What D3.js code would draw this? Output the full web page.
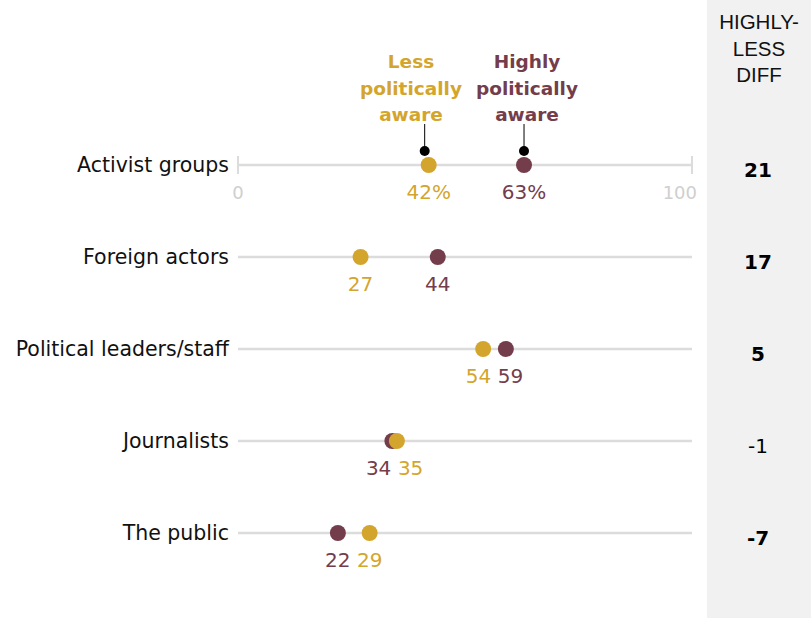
<!DOCTYPE html>
<html><head><meta charset="utf-8">
<script src="https://cdn.jsdelivr.net/npm/d3@7"></script>
<style>body{margin:0;background:#fff}svg{display:block}</style>
</head><body>
<svg id="c" width="811" height="618"></svg>
<script>
const categories = ["Activist groups","Foreign actors","Political leaders/staff","Journalists","The public"];
const lessAware = [42,27,54,35,29];
const highlyAware = [63,44,59,34,22];
const diffs = [21,17,5,-1,-7];
const diffBold = [true,true,true,false,true];
const axisTicks = [0,100];
const seriesNames = ["Less\npolitically\naware","Highly\npolitically\naware"];
const diffHeader = ["HIGHLY-","LESS","DIFF"];

const GOLD = "#D4A52C", MAROON = "#743D4B";
const svg = d3.select("#c");
const x = d3.scaleLinear().domain([0,100]).range([238,692]);
const y = d3.scalePoint().domain(categories).range([165,533]);
const font = "'DejaVu Sans', sans-serif";
const hfont = "'Liberation Sans', Arial, sans-serif";

// diff column background
svg.append("rect").attr("x",707).attr("y",0).attr("width",104).attr("height",618).attr("fill","#f1f1f1");
const hdr = svg.append("text").attr("text-anchor","middle").attr("font-family",hfont).attr("font-size",20.5).attr("fill","#111");
diffHeader.forEach((t,i)=>hdr.append("tspan").attr("x",759).attr("y",29+i*26.5).text(t));

categories.forEach((c,i)=>{
  const yy = y(c);
  svg.append("line").attr("x1",x(0)).attr("x2",x(100)).attr("y1",yy).attr("y2",yy).attr("stroke","#dcdcdc").attr("stroke-width",2.5);
  svg.append("text").attr("x",229).attr("y",yy+7).attr("text-anchor","end").attr("font-family",font).attr("font-size",20.5).attr("fill","#111").text(c);
  svg.append("text").attr("x",758).attr("y",yy+12).attr("text-anchor","middle").attr("font-family",font).attr("font-size",20)
    .attr("font-weight",diffBold[i]?"bold":"normal").attr("fill","#000").text(diffs[i]);
});

// axis end ticks and labels on first row
const y0 = y(categories[0]);
axisTicks.forEach(t=>{
  svg.append("line").attr("x1",x(t)).attr("x2",x(t)).attr("y1",y0-9).attr("y2",y0+9).attr("stroke","#dcdcdc").attr("stroke-width",2);
});
svg.append("text").attr("x",x(0)).attr("y",y0+34).attr("text-anchor","middle").attr("font-family",font).attr("font-size",18).attr("fill","#cfcfcf").text(axisTicks[0]);
svg.append("text").attr("x",x(100)+5).attr("y",y0+34).attr("text-anchor","end").attr("font-family",font).attr("font-size",18).attr("fill","#cfcfcf").text(axisTicks[1]);

// dots and labels
categories.forEach((c,i)=>{
  const yy = y(c);
  const pts = [{v:highlyAware[i],col:MAROON},{v:lessAware[i],col:GOLD}];
  pts.forEach(p=>{
    svg.append("circle").attr("cx",x(p.v)).attr("cy",yy).attr("r",8).attr("fill",p.col);
  });
  let lx = pts.map(p=>x(p.v));
  const minSep = 32;
  if (Math.abs(lx[0]-lx[1]) < minSep){
    const mid=(lx[0]+lx[1])/2;
    if (pts[0].v <= pts[1].v) { lx=[mid-minSep/2, mid+minSep/2]; }
    else { lx=[mid+minSep/2, mid-minSep/2]; }
  }
  pts.forEach((p,k)=>{
    svg.append("text").attr("x",lx[k]).attr("y",yy+34).attr("text-anchor","middle").attr("font-family",font).attr("font-size",20)
      .attr("fill",p.col).text(i===0 ? p.v+"%" : p.v);
  });
});

// legend labels with leader lines
const legendX = [x(lessAware[0])-4, x(highlyAware[0])];
const legendCx = [411, 527];
[GOLD, MAROON].forEach((col,k)=>{
  const t = svg.append("text").attr("text-anchor","middle").attr("font-family",font).attr("font-size",18.5).attr("font-weight","bold").attr("fill",col);
  seriesNames[k].split("\n").forEach((ln,j)=>t.append("tspan").attr("x",legendCx[k]).attr("y",68+j*26.5).text(ln));
  svg.append("line").attr("x1",legendX[k]).attr("x2",legendX[k]).attr("y1",124).attr("y2",150).attr("stroke","#000").attr("stroke-width",1);
  svg.append("circle").attr("cx",legendX[k]).attr("cy",151).attr("r",5).attr("fill","#000");
});
</script>
</body></html>
